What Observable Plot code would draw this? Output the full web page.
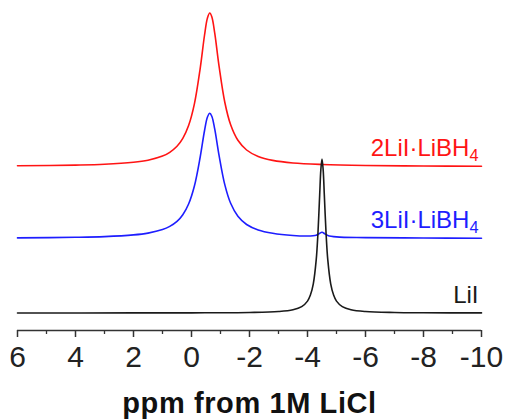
<!DOCTYPE html>
<html><head><meta charset="utf-8">
<script src="https://cdn.jsdelivr.net/npm/d3@7"></script>
<script src="https://cdn.jsdelivr.net/npm/@observablehq/plot@0.6"></script>
<style>body{margin:0;background:#fff}</style>
</head><body><div id="chart"></div>
<script>
// Series names (legend labels drawn next to each trace)
const seriesNames = ["2LiI·LiBH₄", "3LiI·LiBH₄", "LiI"];

// 2LiI·LiBH4 (red) – chemical shift (ppm) and intensity (a.u., stacked offset)
const redPpm = [6, 4, 3, 2, 1.5, 1, 0.75, 0.5, 0.3, 0.1, -0.1, -0.3, -0.45, -0.55, -0.63, -0.7, -0.8, -0.95, -1.15, -1.35, -1.6, -1.9, -2.3, -2.8, -3.5, -4.5, -6, -8, -10];
const redIntensity = [147.2, 147.9, 148.7, 150.7, 152.8, 156.9, 160.7, 166.7, 174.6, 187.4, 209.1, 244.7, 278, 295.1, 300, 296.2, 280.1, 246.9, 210.5, 188.2, 172.7, 163, 156.5, 152.6, 150, 148.5, 147.5, 147, 146.8];

// 3LiI·LiBH4 (blue)
const bluePpm = [6, 4, 3, 2, 1.5, 1, 0.75, 0.5, 0.3, 0.1, -0.1, -0.3, -0.45, -0.55, -0.63, -0.7, -0.8, -0.95, -1.15, -1.35, -1.6, -1.9, -2.3, -2.8, -3.5, -4.0, -4.3, -4.4, -4.5, -4.6, -4.7, -5.0, -6, -8, -10];
const blueIntensity = [75.1, 75.7, 76.4, 78.1, 79.9, 83.4, 86.6, 91.6, 98.3, 109, 127, 156, 182.5, 196, 199.8, 196.8, 184.1, 157.7, 128.1, 109.7, 96.7, 88.5, 83, 79.7, 77.5, 77.0, 77.8, 79.3, 80.7, 79.1, 77.5, 76.1, 75.4, 75, 74.8];

// LiI (black)
const blackPpm = [6, 2, 0, -2, -3, -3.5, -3.8, -4.0, -4.1, -4.2, -4.3, -4.36, -4.42, -4.46, -4.5, -4.54, -4.58, -4.64, -4.7, -4.8, -4.9, -5.0, -5.2, -5.5, -6, -7, -8, -10];
const blackIntensity = [0, 0.08, 0.16, 0.52, 1.43, 3.17, 6.34, 11.9, 17.9, 29.2, 53.1, 79.7, 118.1, 143.1, 154, 143.1, 118.1, 79.7, 53.1, 29.2, 17.9, 11.9, 6.34, 3.17, 1.43, 0.52, 0.26, 0.11];

// Axis ticks
const majorTicks = [6, 4, 2, 0, -2, -4, -6, -8, -10];
const minorTicks = [5, 3, 1, -1, -3, -5, -7, -9];
const axisTitle = "ppm from 1M LiCl";

// styles
const seriesColors = ["#ff1414", "#1e1eff", "#1a1a1a"];
const yDomain = [-17.5, 300.5];

const ppms = [redPpm, bluePpm, blackPpm];
const ints = [redIntensity, blueIntensity, blackIntensity];
const rows = seriesNames.flatMap((name, s) => ppms[s].map((p, i) => ({series: name, ppm: p, intensity: ints[s][i]})));
const labelRows = seriesNames.map((name, s) => ({series: name, ppm: ppms[s][ppms[s].length - 1], intensity: ints[s][ints[s].length - 1]}));

const chart = Plot.plot({
  width: 505, height: 419,
  marginLeft: 17, marginRight: 24, marginTop: 12, marginBottom: 89,
  style: {fontFamily: "'Liberation Sans', Arial, sans-serif", background: "#fff", color: "#222", overflow: "visible"},
  x: {domain: [6, -10], label: null},
  y: {domain: yDomain, axis: null},
  color: {domain: seriesNames, range: seriesColors},
  marks: [
    Plot.ruleY([yDomain[0]], {stroke: "#333", strokeWidth: 1.5}),
    Plot.axisX({ticks: majorTicks, tickSize: 7, tickPadding: 8, tickFormat: d => String(d), fontSize: 30, stroke: "#333", strokeWidth: 1.5, label: axisTitle, labelAnchor: "center", labelArrow: "none", labelOffset: 82}),
    Plot.axisX({ticks: minorTicks, tickSize: 4, tickFormat: () => "", stroke: "#333", strokeWidth: 1.3, label: null}),
    Plot.line(rows, {x: "ppm", y: "intensity", z: "series", stroke: "series", curve: "catmull-rom", strokeWidth: 1.6}),
    Plot.text(labelRows, {x: "ppm", y: "intensity", text: "series", fill: "series", textAnchor: "end", lineAnchor: "bottom", dx: -3, dy: -10, fontSize: 24})
  ]
});
document.getElementById("chart").append(chart);

const svg = d3.select(chart);
svg.selectAll('[aria-label="x-axis label"] text').style("font-weight", "bold").style("font-size", "29px").style("letter-spacing", "0.6px").attr("fill", "#111");
svg.selectAll("text").each(function() {
  const t = this.textContent;
  if (t.includes("₄")) {
    this.textContent = t.replace("₄", "");
    d3.select(this).append("tspan").attr("dy", "0.32em").attr("font-size", "0.68em").text("4");
  }
});
</script>
</body></html>
